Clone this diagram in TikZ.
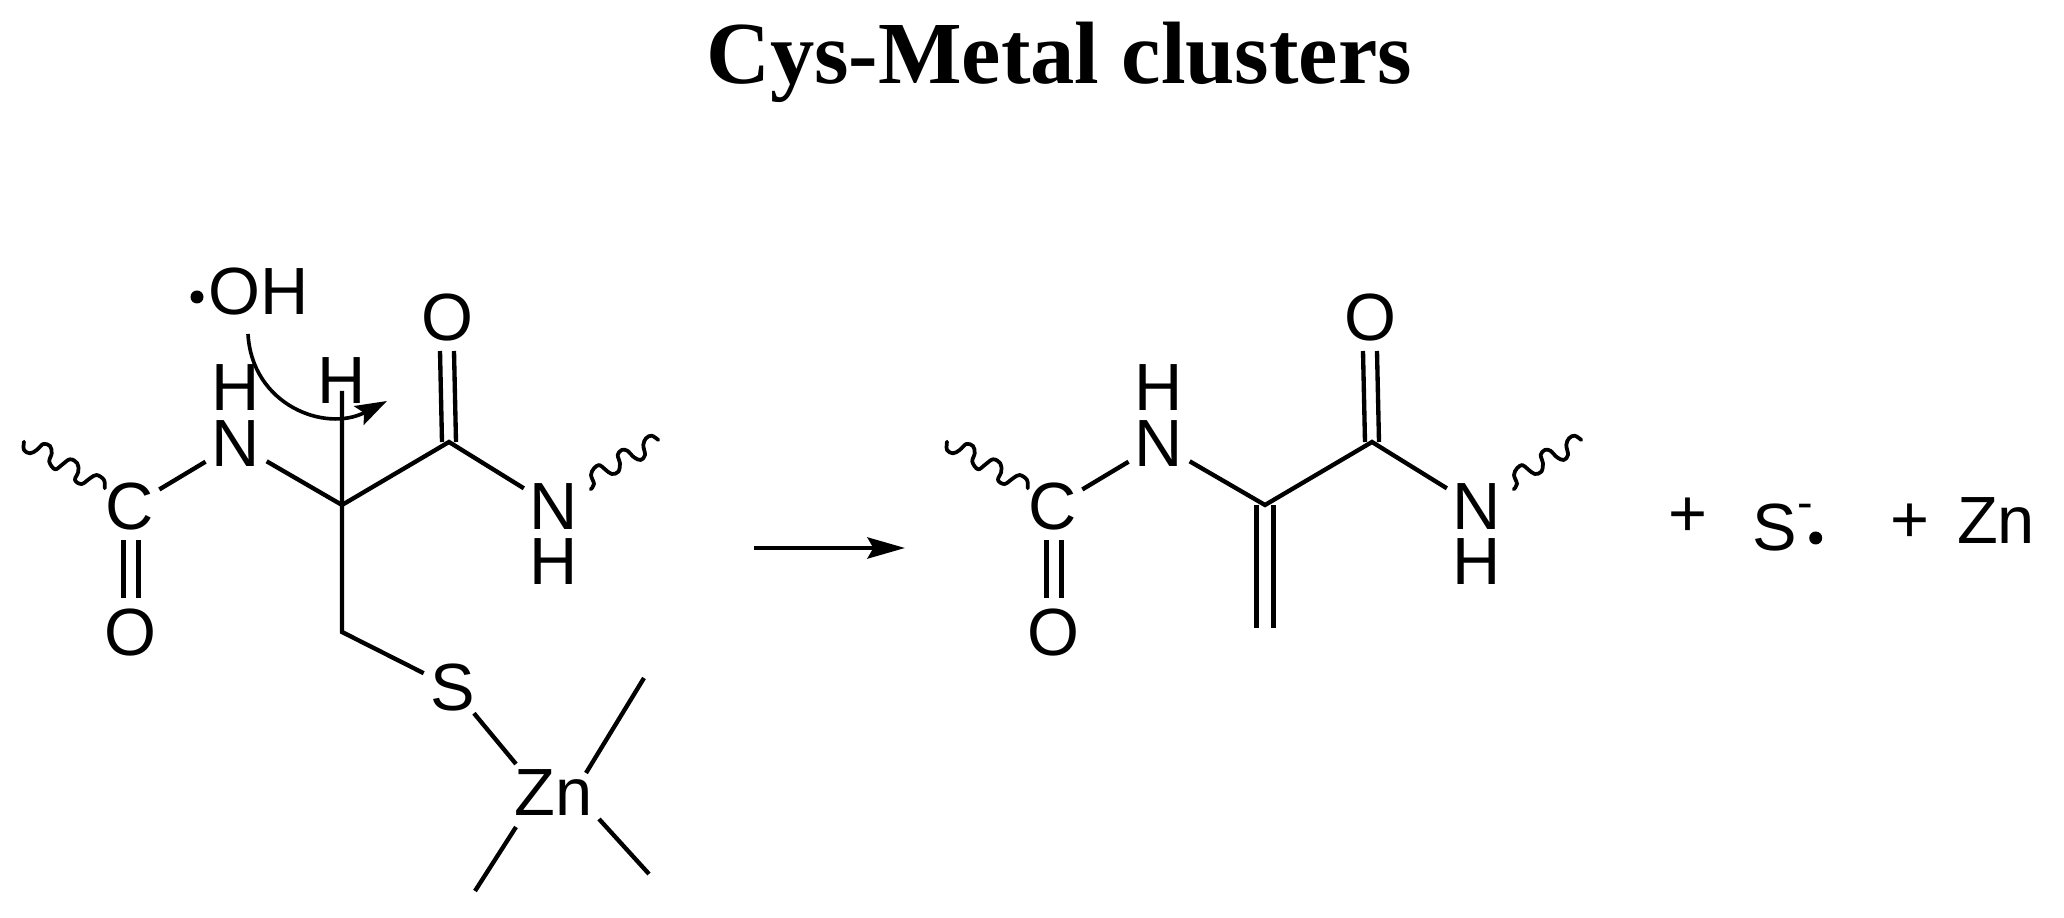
\documentclass[tikz,border=0pt]{standalone}
\usepackage{fontspec}
\setmainfont{Liberation Sans}
\newfontfamily\titlefont{Liberation Serif}
\usetikzlibrary{arrows.meta}
\def\pxu{0.015cm}
\tikzset{
  x=0.015cm,y=-0.015cm,
  plain/.style={font=\fontsize{28.5}{28.5}\selectfont,inner sep=0pt},
  atom/.style={plain,circle,minimum size=70*\pxu},
  atomc/.style={plain,circle,minimum size=64*\pxu},
  bond/.style={line width=1.85pt,line cap=butt},
  wavy/.style={line width=1.6pt,line join=round,line cap=round},
  radical/.style={circle,fill=black,inner sep=0pt,minimum size=13*\pxu},
  curly/.style={line width=1.55pt,-{Stealth[length=13.5pt,width=9pt,inset=2.5pt]}},
  rxn/.style={line width=1.85pt,-{Stealth[length=16pt,width=9pt,inset=2.5pt]}},
}
\newcommand{\molecule}[1]{%
\begin{scope}[xshift=#1*\pxu]
  \node[atomc] (c#1) at (130,507) {C};
  \node[atom] (n#1) at (236,443.5) {N};
  \node[plain] (h#1) at (236,388) {H};
  \coordinate (a#1) at (342,505);
  \coordinate (k#1) at (449,442);
  \node[plain] (o#1) at (447,318) {O};
  \coordinate (ot#1) at (447,351);
  \node[atom] (m#1) at (554,507) {N};
  \node[plain] (i#1) at (554,562) {H};
  \node[plain] (p#1) at (130,633) {O};
  \coordinate (ct#1) at (131,540);
  \coordinate (pt#1) at (131,598);
  \draw[bond] (c#1) -- (n#1);
  \draw[bond] (n#1) -- (a#1) -- (k#1) -- (m#1);
  \draw[bond] ([xshift=-7*\pxu]k#1) -- ([xshift=-7*\pxu]ot#1);
  \draw[bond] ([xshift=7*\pxu]k#1) -- ([xshift=7*\pxu]ot#1);
  \draw[bond] ([xshift=-7.5*\pxu]ct#1) -- ([xshift=-7.5*\pxu]pt#1);
  \draw[bond] ([xshift=7.5*\pxu]ct#1) -- ([xshift=7.5*\pxu]pt#1);
  \draw[wavy] plot[smooth,tension=0.6] coordinates {(24,441.7) (24,450) (30,453.3) (36.7,450) (43.3,444) (50,446) (51.7,453.3) (49.3,461.7) (55,469.3) (61.7,465) (70,459.3) (77.3,463.3) (78.3,471.7) (75,480) (81.7,484) (90,478.3) (96.7,475) (104,480) (104.7,488.3)};
  \draw[wavy] plot[smooth,tension=0.6] coordinates {(590.7,489.3) (594,484) (591,475) (594,468.3) (599.3,465) (605,469.3) (611.7,474) (618.3,471.7) (620,463.3) (617.7,455) (621.7,450) (627.3,450.7) (634,457.3) (640.7,460) (645,455) (643.3,445) (646,438.3) (651.7,435.7) (658.3,440)};
\end{scope}}
\begin{document}
\begin{tikzpicture}
\useasboundingbox (0,0) rectangle (2064,918);
\node[font=\titlefont\bfseries\fontsize{37.8}{37.8}\selectfont,inner sep=0pt,anchor=base] (title) at (1059,84) {Cys-Metal clusters};
\molecule{0}
\molecule{923}
% left side chain
\coordinate (cb) at (342,632);
\coordinate (up) at (342,391);
\node[plain] (hup) at (342,381) {H};
\node[atomc] (s) at (453,688) {S};
\node[plain] (zn) at (553.5,793) {Zn};
\coordinate (z0) at ([shift={(-37.5,-29)}]zn.center);
\coordinate (z1a) at ([shift={(32.5,-20)}]zn.center);
\coordinate (z2a) at ([shift={(45.5,26)}]zn.center);
\coordinate (z3a) at ([shift={(-37.5,34)}]zn.center);
\coordinate (z1) at (644,678);
\coordinate (z2) at (649,874);
\coordinate (z3) at (475,891);
\draw[bond] (up) -- (a0) -- (cb) -- (s);
\draw[bond] (s) -- (z0);
\draw[bond] (z1a) -- (z1);
\draw[bond] (z2a) -- (z2);
\draw[bond] (z3a) -- (z3);
% hydroxyl radical
\node[plain] (oh) at (259,291.5) {OH};
\node[radical] (dot) at (197,297) {};
\coordinate (cs) at (248,334);
\coordinate (ce) at (387,401);
\draw[curly] (cs) .. controls (252,405) and (325,433) .. (ce);
% right side
\coordinate (d) at (1265,628);
\draw[bond] ([xshift=-8.5*\pxu]a923) -- ([xshift=-8.5*\pxu]d);
\draw[bond] ([xshift=8.5*\pxu]a923) -- ([xshift=8.5*\pxu]d);
\coordinate (r1) at (754,548);
\coordinate (r2) at (905,548);
\draw[rxn] (r1) -- (r2);
\node[plain] (plus1) at (1687.5,517.7) {+};
\node[plain] (sm) at (1775,527.7) {S};
\node[font=\fontsize{20}{20}\selectfont,inner sep=0pt] (minus) at (1805.7,511) {-};
\node[radical] (sdot) at (1815.7,538) {};
\node[plain] (plus2) at (1910,523.3) {+};
\node[plain] (zn2) at (1996,521) {Zn};
\end{tikzpicture}
\end{document}
